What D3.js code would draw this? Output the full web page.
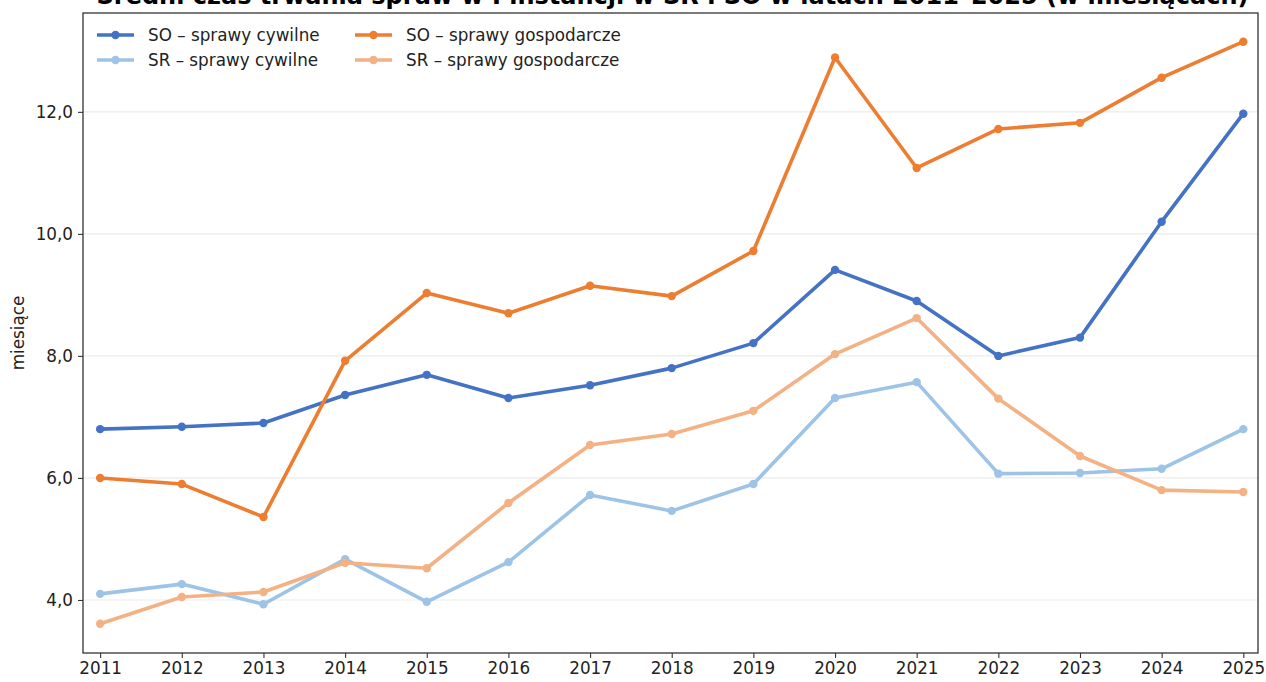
<!DOCTYPE html>
<html>
<head>
<meta charset="utf-8">
<script src="https://cdn.jsdelivr.net/npm/d3@7"></script>
<style>
  body { margin: 0; background: #fff; }
  text { font-family: "DejaVu Sans", sans-serif; }
</style>
</head>
<body>
<script>
let WIDTH = 1266,
    HEIGHT = 682;

// chart data
let years = [2011, 2012, 2013, 2014, 2015, 2016, 2017, 2018, 2019, 2020, 2021, 2022, 2023, 2024, 2025];
let soCywilne = [6.80, 6.84, 6.90, 7.36, 7.69, 7.31, 7.52, 7.80, 8.21, 9.41, 8.90, 8.00, 8.30, 10.20, 11.97];
let soGospodarcze = [6.00, 5.90, 5.36, 7.92, 9.03, 8.70, 9.15, 8.98, 9.72, 12.89, 11.08, 11.72, 11.82, 12.56, 13.15];
let srCywilne = [4.10, 4.26, 3.93, 4.67, 3.97, 4.62, 5.72, 5.46, 5.90, 7.31, 7.57, 6.07, 6.08, 6.15, 6.80];
let srGospodarcze = [3.61, 4.05, 4.13, 4.61, 4.52, 5.59, 6.54, 6.72, 7.10, 8.03, 8.62, 7.30, 6.36, 5.80, 5.77];
let yTicks = [4, 6, 8, 10, 12];

let series = [
  {name: "SO – sprawy cywilne", values: soCywilne, color: "#4472c4"},
  {name: "SO – sprawy gospodarcze", values: soGospodarcze, color: "#ed7d31"},
  {name: "SR – sprawy cywilne", values: srCywilne, color: "#9dc3e6"},
  {name: "SR – sprawy gospodarcze", values: srGospodarcze, color: "#f4b183"}
];

let margin = {top: 13, right: 8, bottom: 29, left: 83};
let FONT = "16.8px";

let svg = d3.select("body").append("svg")
  .attr("width", WIDTH)
  .attr("height", HEIGHT);

let x = d3.scaleLinear()
  .domain([2010.79, 2025.18])
  .range([margin.left, WIDTH - margin.right]);

let y = d3.scaleLinear()
  .domain([3.131, 13.62])
  .range([HEIGHT - margin.bottom, margin.top]);

// grid
svg.append("g")
  .selectAll("line")
  .data(yTicks)
  .enter().append("line")
    .attr("x1", margin.left)
    .attr("x2", WIDTH - margin.right)
    .attr("y1", d => y(d))
    .attr("y2", d => y(d))
    .attr("stroke", "#ebebeb")
    .attr("stroke-width", 1.2);

// axes
let fmt = d => d3.format(".1f")(d).replace(".", ",");

let yAxis = svg.append("g")
  .attr("transform", "translate(" + margin.left + ",0)")
  .call(d3.axisLeft(y).tickValues(yTicks).tickFormat(fmt).tickSize(5).tickPadding(5));

let xAxis = svg.append("g")
  .attr("transform", "translate(0," + (HEIGHT - margin.bottom) + ")")
  .call(d3.axisBottom(x).tickValues(years).tickFormat(d3.format("d")).tickSize(5).tickPadding(4));

[xAxis, yAxis].forEach(ax => {
  ax.select(".domain").remove();
  ax.selectAll("line").attr("stroke", "#333").attr("stroke-width", 1.1);
  ax.selectAll("text")
    .attr("fill", "#222")
    .style("font-size", FONT)
    .style("font-family", "'DejaVu Sans', sans-serif");
});

// frame
svg.append("rect")
  .attr("x", margin.left)
  .attr("y", margin.top)
  .attr("width", WIDTH - margin.left - margin.right)
  .attr("height", HEIGHT - margin.top - margin.bottom)
  .attr("fill", "none")
  .attr("stroke", "#333")
  .attr("stroke-width", 1.3);

// lines
let line = d3.line()
  .x((d, i) => x(years[i]))
  .y(d => y(d));

let groups = svg.selectAll(".series")
  .data(series)
  .enter().append("g")
    .attr("class", "series");

groups.append("path")
  .attr("d", d => line(d.values))
  .attr("fill", "none")
  .attr("stroke", d => d.color)
  .attr("stroke-width", 3.6)
  .attr("stroke-linejoin", "round");

groups.each(function(s) {
  d3.select(this).selectAll("circle")
    .data(s.values)
    .enter().append("circle")
      .attr("cx", (d, i) => x(years[i]))
      .attr("cy", d => y(d))
      .attr("r", 4.2)
      .attr("fill", s.color);
});

// legend
let legendPos = [
  {x: 97, y: 35}, {x: 355, y: 35},
  {x: 97, y: 60}, {x: 355, y: 60}
];

let legend = svg.selectAll(".legend")
  .data(series)
  .enter().append("g")
    .attr("class", "legend")
    .attr("transform", (d, i) => "translate(" + legendPos[i].x + "," + legendPos[i].y + ")");

legend.append("line")
  .attr("x1", 0).attr("x2", 37)
  .attr("stroke", d => d.color)
  .attr("stroke-width", 3.6);

legend.append("circle")
  .attr("cx", 18.5)
  .attr("r", 4.2)
  .attr("fill", d => d.color);

legend.append("text")
  .attr("x", 51)
  .attr("y", 6)
  .attr("fill", "#222")
  .style("font-size", FONT)
  .text(d => d.name);

// y label
svg.append("text")
  .attr("transform", "translate(24," + ((margin.top + HEIGHT - margin.bottom) / 2) + ") rotate(-90)")
  .attr("text-anchor", "middle")
  .attr("fill", "#222")
  .style("font-size", FONT)
  .text("miesiące");

// title (cut off at the top, like the original)
svg.append("text")
  .attr("x", (97 + 1248) / 2)
  .attr("y", 4)
  .attr("text-anchor", "middle")
  .attr("fill", "#000")
  .style("font-size", "24px")
  .style("font-weight", "bold")
  .text("Średni czas trwania spraw w I instancji w SR i SO w latach 2011–2025 (w miesiącach)");
</script>
</body>
</html>
